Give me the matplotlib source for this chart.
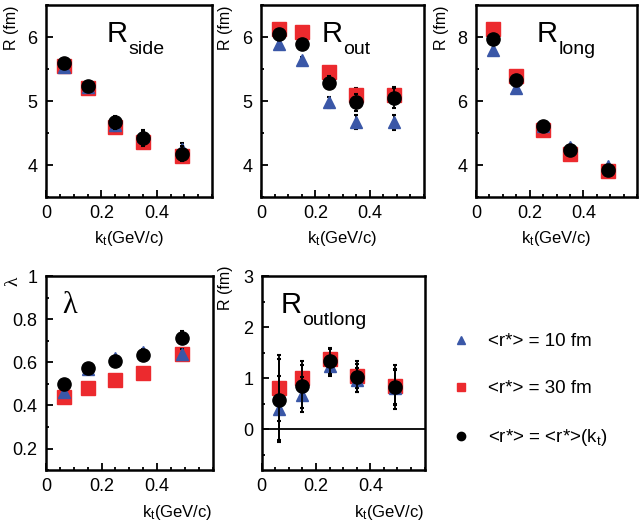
import numpy as np
import matplotlib.pyplot as plt
from matplotlib.ticker import MultipleLocator, FixedLocator

plt.rcParams['font.family'] = ['Liberation Sans', 'DejaVu Sans']
plt.rcParams['mathtext.fontset'] = 'custom'
plt.rcParams['mathtext.rm'] = 'Liberation Sans'
plt.rcParams['mathtext.it'] = 'Liberation Sans:italic'

kt = [0.065, 0.15, 0.25, 0.35, 0.49]
xticks = [0, 0.2, 0.4]
labels = ['<r*> = 10 fm', '<r*> = 30 fm', '<r*> = <r*>(k$_\\mathregular{t}$)']

# R_side
side_10 = [5.54, 5.22, 4.62, 4.45, 4.25]
side_30 = [5.55, 5.21, 4.59, 4.36, 4.14]
side_kt = [5.59, 5.24, 4.67, 4.42, 4.18]
side_err = [0.05, 0.05, 0.10, 0.12, 0.12]
# R_out
out_10 = [5.90, 5.64, 4.98, 4.67, 4.67]
out_30 = [6.13, 6.08, 5.45, 5.10, 5.10]
out_kt = [6.05, 5.90, 5.29, 4.98, 5.05]
out_err = [0.06, 0.07, 0.10, 0.14, 0.15]
# R_long
long_10 = [7.59, 6.41, 5.23, 4.58, 3.97]
long_30 = [8.26, 6.79, 5.11, 4.36, 3.83]
long_kt = [7.95, 6.65, 5.21, 4.46, 3.85]
long_err = [0.05, 0.05, 0.05, 0.06, 0.06]
# lambda
lam_10 = [0.464, 0.567, 0.620, 0.650, 0.640]
lam_30 = [0.440, 0.482, 0.518, 0.552, 0.640]
lam_kt = [0.498, 0.575, 0.606, 0.634, 0.715]
lam_err = [0.01, 0.01, 0.012, 0.012, 0.03]
# R_outlong
ol_10 = [0.40, 0.68, 1.24, 0.97, 0.81]
ol_30 = [0.81, 1.00, 1.37, 1.04, 0.84]
ol_kt = [0.58, 0.84, 1.34, 1.03, 0.83]
ol_err = [0.80, 0.42, 0.25, 0.30, 0.43]

blue = '#3a57a7'
red = '#ec2a2e'

fig = plt.figure(figsize=(6.39, 5.27), dpi=100)

def panel(rect, ylim, ymaj, ymin, s10, s30, skt, err, ylab, ylab_x, ylab_y, name, sub, nx, ny, xlab_right=False):
    ax = fig.add_axes(rect)
    ax.errorbar(kt, s30, yerr=np.array(err) * 0.8, fmt='s', color=red, ms=9.5, ecolor='k',
                elinewidth=1.3, capsize=1.2, capthick=1.5, zorder=2)
    ax.errorbar(kt, s10, yerr=np.array(err) * 0.8, fmt='^', color=blue, ms=8.5, ecolor='k',
                elinewidth=1.3, capsize=1.2, capthick=1.5, zorder=3)
    ax.errorbar(kt, skt, yerr=err, fmt='o', color='k', ms=9.5, ecolor='k',
                elinewidth=1.3, capsize=1.2, capthick=1.5, zorder=4)
    ax.set_xlim(0, 0.6)
    ax.set_ylim(*ylim)
    ax.xaxis.set_major_locator(FixedLocator(xticks))
    ax.xaxis.set_minor_locator(MultipleLocator(0.05))
    ax.yaxis.set_major_locator(MultipleLocator(ymaj))
    ax.yaxis.set_minor_locator(MultipleLocator(ymin))
    ax.xaxis.set_major_formatter(lambda v, p: '%g' % round(v, 3))
    ax.yaxis.set_major_formatter(lambda v, p: '%g' % round(v, 3))
    ax.tick_params(which='both', direction='in', top=False, right=False, labelsize=13, width=1.3)
    ax.tick_params(which='major', length=5, pad=6)
    ax.tick_params(which='minor', length=2.5)
    for s in ax.spines.values():
        s.set_linewidth(1.8)
    if sub:
        ax.text(ylab_x, ylab_y, ylab, rotation=90, ha='center', va='top', fontsize=11.5,
                transform=ax.transAxes)
        t = ax.text(nx, ny, name, fontsize=21, va='baseline', ha='left', transform=ax.transAxes)
        ax.annotate(sub, xy=(1, 0), xycoords=t, xytext=(0.5, -1), textcoords='offset points',
                    fontsize=14, va='center', ha='left')
    else:
        ax.text(ylab_x, ylab_y, ylab, rotation=90, ha='center', va='top', fontsize=14,
                transform=ax.transAxes, family='Liberation Serif')
        ax.text(nx, ny, name, fontsize=22, va='baseline', ha='left', transform=ax.transAxes,
                family='Liberation Serif')
    xl = 'k$_\\mathregular{t}$(GeV/c)'
    if xlab_right:
        ax.text(1.0, -0.24, xl, ha='right', va='baseline', fontsize=12, transform=ax.transAxes)
    else:
        ax.text(0.5, -0.24, xl, ha='center', va='baseline', fontsize=12, transform=ax.transAxes)
    return ax

panel([0.072, 0.626, 0.260, 0.364], (3.5, 6.5), 1, 0.5, side_10, side_30, side_kt, side_err,
      'R (fm)', -0.205, 1.0, 'R', 'side', 0.367, 0.807)
panel([0.4085, 0.626, 0.255, 0.364], (3.5, 6.5), 1, 0.5, out_10, out_30, out_kt, out_err,
      'R (fm)', -0.22, 1.0, 'R', 'out', 0.372, 0.807)
panel([0.745, 0.626, 0.252, 0.364], (3, 9), 2, 1, long_10, long_30, long_kt, long_err,
      'R (fm)', -0.217, 1.0, 'R', 'long', 0.379, 0.807)
panel([0.072, 0.108, 0.261, 0.368], (0.1, 1.0), 0.2, 0.1, lam_10, lam_30, lam_kt, lam_err,
      'λ', -0.2, 1.0, 'λ', None, 0.10, 0.81, xlab_right=True)
ax5 = panel([0.4095, 0.108, 0.255, 0.368], (-0.8, 3), 1, 0.5, ol_10, ol_30, ol_kt, ol_err,
            'R (fm)', -0.22, 1.057, 'R', 'outlong', 0.117, 0.809, xlab_right=True)
ax5.axhline(0, color='k', lw=1.3, zorder=1)

h_tri = plt.Line2D([], [], ls='none', marker='^', color=blue, ms=6)
h_sq = plt.Line2D([], [], ls='none', marker='s', color=red, ms=6)
h_c = plt.Line2D([], [], ls='none', marker='o', color='k', ms=6)
fig.legend([h_tri, h_sq, h_c], labels, loc='upper left', bbox_to_anchor=(0.681, 0.40),
           frameon=False, fontsize=13.5, handlelength=1.0, handletextpad=0.9, labelspacing=1.6)

fig.savefig('out.png', dpi=100)
